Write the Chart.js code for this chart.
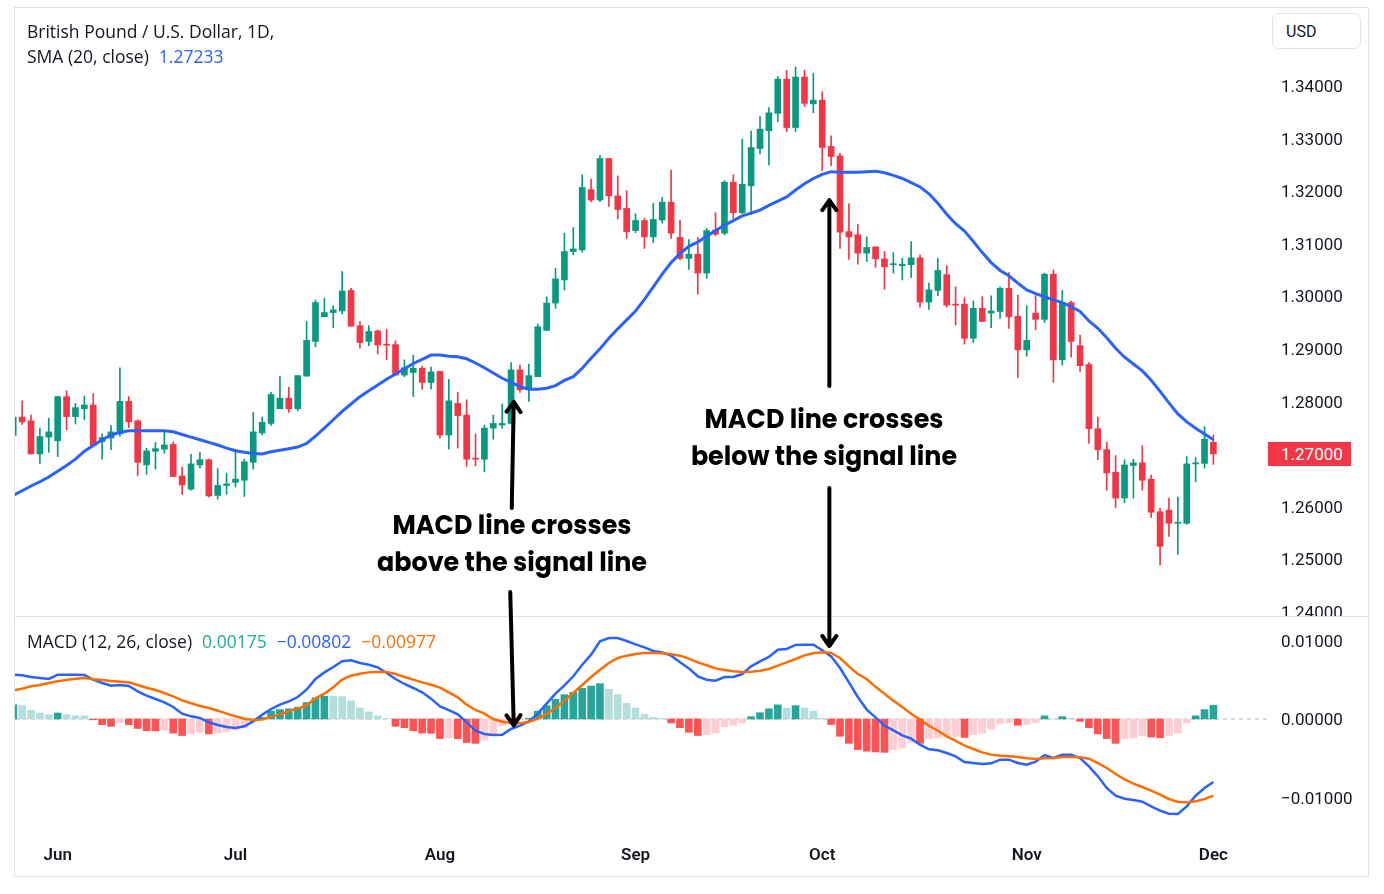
<!DOCTYPE html>
<html>
<head>
<meta charset="utf-8">
<script src="https://cdn.jsdelivr.net/npm/chart.js@4.4.1/dist/chart.umd.min.js"></script>
<style>
  html, body { margin: 0; padding: 0; background: #ffffff; }
  #root { position: relative; width: 1384px; height: 894px; overflow: hidden; background: #ffffff;
          font-family: Roboto, "Liberation Sans", sans-serif; color: #131722; }
  #frame { position: absolute; left: 14px; top: 7px; width: 1355px; height: 870px;
           border: 1px solid #e0e3eb; box-sizing: border-box; }
  .pane { position: absolute; left: 15px; }
  #sep { position: absolute; left: 15px; top: 616px; width: 1353px; height: 1px; background: #e0e3eb; }
  .legend { position: absolute; left: 27px; font-family: "Open Sans", Roboto, sans-serif; font-size: 17.5px;
            line-height: 22px; white-space: nowrap; color: #131722; }
  .legend span.v { margin-left: 10px; }
  #usd { position: absolute; left: 1272px; top: 13px; width: 89px; height: 36px; box-sizing: border-box;
         border: 1px solid #e0e3eb; border-radius: 7px; font-size: 16px; line-height: 36px; padding-left: 13px; background:#fff; }
  #lastPrice { position: absolute; left: 1268px; width: 83px; height: 24px; background: #F23645; color: #fff;
               font-size: 17px; line-height: 25px; padding-left: 13px; box-sizing: border-box; }
  .note { position: absolute; font-family: Poppins, "Open Sans", sans-serif; font-weight: 700; font-size: 25.4px;
          line-height: 37px; text-align: center; color: #000; white-space: nowrap; }
  #arrows { position: absolute; left: 0; top: 0; }
</style>
</head>
<body>
<div id="root">
  <div id="frame"></div>
  <div class="pane" style="top:8px;width:1353px;height:608px;"><canvas id="priceChart" width="1353" height="608"></canvas></div>
  <div id="sep"></div>
  <div class="pane" style="top:617px;width:1353px;height:259px;"><canvas id="macdChart" width="1353" height="259"></canvas></div>

  <div class="legend" style="top:20px;">British Pound / U.S. Dollar, 1D,</div>
  <div class="legend" style="top:45px;">SMA (20, close)<span class="v" style="color:#2962FF;">1.27233</span></div>
  <div class="legend" style="top:630px;">MACD (12, 26, close)<span class="v" style="color:#22AB94;">0.00175</span><span class="v" style="color:#2962FF;">−0.00802</span><span class="v" style="color:#FF6D00;">−0.00977</span></div>
  <div id="usd">USD</div>
  <div id="lastPrice">1.27000</div>

  <div class="note" style="left:362px;top:507px;width:300px;">MACD line crosses<br>above the signal line</div>
  <div class="note" style="left:674px;top:401px;width:300px;">MACD line crosses<br>below the signal line</div>
  <svg id="arrows" width="1384" height="894"></svg>
</div>

<script>
// ---------------- DATA ----------------
// Trading days from 27 May 2024 (index 0) to 2 Dec 2024 (index 135)
const monthLabels   = ['Jun', 'Jul', 'Aug', 'Sep', 'Oct', 'Nov', 'Dec'];
const monthStartIdx = [5, 25, 48, 70, 91, 114, 135];

const priceTicks = [1.24, 1.25, 1.26, 1.27, 1.28, 1.29, 1.30, 1.31, 1.32, 1.33, 1.34];
const macdTicks  = [-0.01, 0, 0.01];

const opens = [
  1.2735,1.2770,1.2763,1.2700,1.2732,1.2725,1.2809,1.2771,1.2786,1.2793,
  1.2723,1.2730,1.2738,1.2800,1.2763,1.2679,1.2705,1.2709,1.2718,1.2658,
  1.2633,1.2679,1.2689,1.2621,1.2640,1.2646,1.2650,1.2684,1.2740,1.2758,
  1.2786,1.2806,1.2786,1.2848,1.2914,1.2961,1.2969,1.2972,1.3011,1.2944,
  1.2914,1.2934,1.2908,1.2908,1.2850,1.2855,1.2863,1.2836,1.2857,1.2736,
  1.2796,1.2774,1.2692,1.2690,1.2749,1.2755,1.2758,1.2860,1.2822,1.2847,
  1.2935,1.2987,1.3031,1.3085,1.3088,1.3203,1.3183,1.3262,1.3191,1.3167,
  1.3125,1.3144,1.3113,1.3145,1.3179,1.3112,1.3072,1.3080,1.3044,1.3126,
  1.3120,1.3217,1.3159,1.3210,1.3281,1.3315,1.3348,1.3413,1.3321,1.3417,
  1.3366,1.3373,1.3285,1.3267,1.3123,1.3117,1.3082,1.3094,1.3071,1.3060,
  1.3058,1.3060,1.3073,1.2989,1.3011,1.3041,1.2985,1.2985,1.2920,1.2977,
  1.2968,1.2971,1.3015,1.2962,1.2898,1.2968,1.2956,1.3042,1.2879,1.2988,
  1.2906,1.2870,1.2748,1.2708,1.2665,1.2616,1.2678,1.2683,1.2652,1.2590,
  1.2593,1.2568,1.2568,1.2681,1.2682,1.2722
];
const highs = [
  1.2780,1.2801,1.2774,1.2749,1.2768,1.2810,1.2820,1.2796,1.2810,1.2815,
  1.2738,1.2754,1.2864,1.2809,1.2765,1.2711,1.2722,1.2742,1.2723,1.2675,
  1.2699,1.2703,1.2690,1.2672,1.2663,1.2709,1.2690,1.2779,1.2770,1.2817,
  1.2847,1.2827,1.2849,1.2952,1.2993,1.2996,1.2982,1.3047,1.3015,1.2952,
  1.2944,1.2936,1.2937,1.2915,1.2879,1.2888,1.2867,1.2865,1.2857,1.2842,
  1.2817,1.2803,1.2738,1.2755,1.2774,1.2795,1.2874,1.2869,1.2871,1.2947,
  1.2999,1.3053,1.3120,1.3131,1.3231,1.3223,1.3268,1.3262,1.3229,1.3201,
  1.3157,1.3148,1.3177,1.3188,1.3240,1.3145,1.3108,1.3112,1.3129,1.3159,
  1.3220,1.3231,1.3299,1.3314,1.3342,1.3359,1.3418,1.3430,1.3436,1.3430,
  1.3424,1.3389,1.3305,1.3272,1.3176,1.3137,1.3113,1.3094,1.3085,1.3083,
  1.3072,1.3104,1.3079,1.3025,1.3072,1.3058,1.3018,1.2997,1.2991,1.2999,
  1.3001,1.3018,1.3045,1.3002,1.2982,1.3001,1.3044,1.3050,1.3011,1.2991,
  1.2926,1.2874,1.2770,1.2722,1.2697,1.2689,1.2690,1.2716,1.2660,1.2597,
  1.2616,1.2618,1.2695,1.2693,1.2752,1.2736
];
const lows = [
  1.2725,1.2756,1.2700,1.2682,1.2703,1.2695,1.2746,1.2757,1.2765,1.2716,
  1.2690,1.2708,1.2734,1.2750,1.2659,1.2661,1.2671,1.2701,1.2657,1.2623,
  1.2631,1.2673,1.2618,1.2614,1.2623,1.2637,1.2619,1.2671,1.2736,1.2754,
  1.2786,1.2779,1.2782,1.2848,1.2904,1.2961,1.2940,1.2966,1.2943,1.2901,
  1.2906,1.2890,1.2879,1.2850,1.2847,1.2809,1.2823,1.2823,1.2730,1.2709,
  1.2711,1.2676,1.2677,1.2666,1.2728,1.2749,1.2758,1.2817,1.2800,1.2847,
  1.2935,1.2977,1.3012,1.3079,1.3084,1.3180,1.3180,1.3171,1.3147,1.3110,
  1.3121,1.3091,1.3102,1.3139,1.3110,1.3069,1.3051,1.3004,1.3034,1.3115,
  1.3117,1.3148,1.3157,1.3155,1.3271,1.3250,1.3332,1.3313,1.3313,1.3361,
  1.3349,1.3239,1.3248,1.3091,1.3070,1.3061,1.3066,1.3055,1.3013,1.3044,
  1.3031,1.3036,1.2979,1.2975,1.3001,1.2979,1.2945,1.2909,1.2912,1.2952,
  1.2940,1.2958,1.2939,1.2845,1.2886,1.2936,1.2950,1.2836,1.2869,1.2884,
  1.2857,1.2720,1.2689,1.2631,1.2598,1.2607,1.2616,1.2631,1.2579,1.2489,
  1.2543,1.2509,1.2566,1.2647,1.2673,1.2680
];
const closes = [
  1.2770,1.2761,1.2700,1.2733,1.2742,1.2809,1.2771,1.2788,1.2793,1.2716,
  1.2731,1.2742,1.2800,1.2761,1.2684,1.2706,1.2710,1.2717,1.2657,1.2641,
  1.2681,1.2689,1.2620,1.2640,1.2643,1.2652,1.2685,1.2742,1.2760,1.2813,
  1.2806,1.2786,1.2849,1.2916,1.2988,1.2969,1.2974,1.3010,1.2943,1.2912,
  1.2933,1.2907,1.2907,1.2850,1.2864,1.2863,1.2836,1.2856,1.2736,1.2801,
  1.2773,1.2690,1.2690,1.2749,1.2758,1.2758,1.2860,1.2822,1.2849,1.2942,
  1.2987,1.3033,1.3085,1.3090,1.3207,1.3183,1.3262,1.3191,1.3165,1.3123,
  1.3144,1.3113,1.3146,1.3179,1.3120,1.3072,1.3080,1.3044,1.3125,1.3118,
  1.3217,1.3159,1.3213,1.3283,1.3318,1.3349,1.3413,1.3321,1.3417,1.3367,
  1.3373,1.3283,1.3266,1.3122,1.3113,1.3082,1.3093,1.3071,1.3056,1.3061,
  1.3061,1.3073,1.2989,1.3012,1.3049,1.2983,1.2983,1.2920,1.2977,1.2952,
  1.2972,1.3015,1.2961,1.2898,1.2916,1.2956,1.3042,1.2879,1.2988,1.2914,
  1.2868,1.2748,1.2708,1.2664,1.2616,1.2679,1.2683,1.2650,1.2589,1.2524,
  1.2568,1.2570,1.2681,1.2683,1.2728,1.2700
];
const sma20 = [
  1.2621,1.2630,1.2639,1.2647,1.2656,1.2667,1.2678,1.2690,1.2705,1.2716,
  1.2727,1.2736,1.2741,1.2744,1.2744,1.2744,1.2744,1.2744,1.2742,1.2737,
  1.2732,1.2727,1.2722,1.2717,1.2711,1.2706,1.2703,1.2701,1.2700,1.2704,
  1.2707,1.2710,1.2713,1.2720,1.2734,1.2749,1.2765,1.2781,1.2795,1.2809,
  1.2820,1.2831,1.2842,1.2852,1.2862,1.2872,1.2880,1.2888,1.2888,1.2886,
  1.2885,1.2881,1.2873,1.2864,1.2854,1.2844,1.2836,1.2828,1.2823,1.2823,
  1.2825,1.2830,1.2840,1.2847,1.2863,1.2882,1.2900,1.2920,1.2938,1.2955,
  1.2972,1.2994,1.3018,1.3042,1.3064,1.3081,1.3095,1.3103,1.3114,1.3125,
  1.3135,1.3144,1.3153,1.3158,1.3164,1.3173,1.3181,1.3189,1.3202,1.3214,
  1.3224,1.3232,1.3237,1.3236,1.3236,1.3236,1.3237,1.3238,1.3235,1.3230,
  1.3224,1.3216,1.3208,1.3195,1.3177,1.3156,1.3138,1.3124,1.3104,1.3083,
  1.3064,1.3049,1.3039,1.3025,1.3012,1.3005,1.2999,1.2993,1.2988,1.2980,
  1.2971,1.2953,1.2939,1.2921,1.2901,1.2884,1.2871,1.2858,1.2840,1.2819,
  1.2797,1.2776,1.2761,1.2749,1.2738,1.2727
];
const histogram = [
  0.0018,0.0017,0.0011,0.00076,0.00055,0.00076,0.00055,0.00042,0.0004,-0.0001,
  -0.00072,-0.00093,-0.0005,-0.00072,-0.0012,-0.0015,-0.00152,-0.00145,-0.0018,-0.0021,
  -0.0019,-0.0017,-0.0019,-0.0018,-0.0016,-0.0014,-0.0011,-0.0003,0.0002,0.0010,
  0.0012,0.0013,0.0015,0.0021,0.0027,0.0029,0.00288,0.00285,0.0023,0.0014,
  0.0009,0.0004,0.00005,-0.00093,-0.0011,-0.0015,-0.0018,-0.00182,-0.0025,-0.0024,
  -0.0025,-0.0030,-0.0031,-0.0027,-0.0020,-0.00085,-0.0003,-0.0001,0.0001,0.0010,
  0.0017,0.0025,0.0031,0.0034,0.0039,0.0042,0.0045,0.0038,0.0031,0.0020,
  0.0014,0.0006,0.0002,0.0001,-0.0005,-0.0011,-0.0017,-0.0021,-0.0020,-0.0018,
  -0.0010,-0.0008,-0.0005,0.0003,0.0008,0.0013,0.0018,0.0014,0.0017,0.0014,
  0.0010,0.0001,-0.0007,-0.0022,-0.0031,-0.0039,-0.0041,-0.0042,-0.00425,-0.0039,
  -0.0037,-0.0030,-0.0031,-0.0025,-0.0024,-0.0023,-0.0022,-0.00235,-0.0020,-0.0018,
  -0.0013,-0.0006,-0.0005,-0.0008,-0.0007,-0.0005,0.0004,0.00002,0.0003,0.0001,
  -0.0003,-0.0011,-0.0019,-0.0025,-0.0031,-0.0025,-0.0024,-0.0021,-0.0023,-0.0024,
  -0.0021,-0.0018,-0.0005,0.0004,0.0012,0.00175
];
const macdLine = [
  0.00565,0.00556,0.00535,0.00522,0.00510,0.00565,0.00565,0.00565,0.00561,0.00501,
  0.00459,0.00425,0.00433,0.00420,0.00352,0.00297,0.00255,0.00212,0.00153,0.00068,
  0.00034,0.00013,-0.00042,-0.00076,-0.00102,-0.00115,-0.00093,-0.00030,0.00055,0.00127,
  0.00183,0.00225,0.00280,0.00374,0.00510,0.00594,0.00662,0.00735,0.00747,0.00713,
  0.00692,0.00658,0.00586,0.00510,0.00446,0.00395,0.00340,0.00259,0.00160,0.00112,
  0.00059,-0.00042,-0.00149,-0.00191,-0.00204,-0.00200,-0.00127,-0.00085,-0.00030,0.00068,
  0.00195,0.00323,0.00429,0.00544,0.00692,0.00820,0.00989,0.01032,0.01032,0.00994,
  0.00951,0.00913,0.00866,0.00849,0.00807,0.00722,0.00645,0.00544,0.00501,0.00488,
  0.00535,0.00535,0.00573,0.00671,0.00735,0.00790,0.00883,0.00892,0.00943,0.00947,
  0.00947,0.00875,0.00798,0.00650,0.00467,0.00280,0.00120,0.00020,-0.00085,-0.00144,
  -0.00208,-0.00251,-0.00327,-0.00386,-0.00399,-0.00433,-0.00476,-0.00548,-0.00561,-0.00573,
  -0.00565,-0.00518,-0.00518,-0.00561,-0.00582,-0.00544,-0.00459,-0.00497,-0.00454,-0.00454,
  -0.00497,-0.00603,-0.00730,-0.00879,-0.00977,-0.01015,-0.01032,-0.01053,-0.01113,-0.01168,
  -0.01206,-0.01210,-0.01113,-0.00977,-0.00879,-0.00802
];
const signalLine = [
  0.00365,0.00386,0.00416,0.00433,0.00459,0.00480,0.00497,0.00514,0.00522,0.00505,
  0.00497,0.00484,0.00476,0.00467,0.00433,0.00399,0.00369,0.00331,0.00289,0.00238,
  0.00200,0.00166,0.00140,0.00106,0.00068,0.00034,0.00004,-0.00013,-0.00008,0.00030,
  0.00059,0.00098,0.00132,0.00174,0.00263,0.00323,0.00403,0.00501,0.00552,0.00577,
  0.00594,0.00599,0.00599,0.00573,0.00535,0.00501,0.00467,0.00437,0.00400,0.00340,
  0.00276,0.00183,0.00115,0.00068,0.00000,-0.00034,-0.00051,-0.00055,-0.00038,0.00004,
  0.00064,0.00140,0.00234,0.00331,0.00433,0.00535,0.00628,0.00713,0.00777,0.00807,
  0.00828,0.00841,0.00841,0.00837,0.00824,0.00807,0.00769,0.00722,0.00684,0.00645,
  0.00624,0.00607,0.00599,0.00603,0.00616,0.00637,0.00679,0.00722,0.00764,0.00811,
  0.00837,0.00849,0.00841,0.00777,0.00671,0.00573,0.00510,0.00410,0.00323,0.00234,
  0.00153,0.00068,-0.00008,-0.00085,-0.00149,-0.00221,-0.00280,-0.00335,-0.00382,-0.00425,
  -0.00454,-0.00467,-0.00476,-0.00484,-0.00501,-0.00510,-0.00501,-0.00497,-0.00484,-0.00484,
  -0.00488,-0.00505,-0.00561,-0.00624,-0.00701,-0.00769,-0.00824,-0.00866,-0.00913,-0.00964,
  -0.01019,-0.01057,-0.01062,-0.01049,-0.01019,-0.00977
];

// annotation anchors (crossover bars and where the arrows point)
const crossUpIdx = 56.3, crossDownIdx = 91.8;
const upArrowPriceTip = 1.2799, downArrowPriceTip = 1.3183;
const upArrowMacdTip = -0.0008, downArrowMacdTip = 0.0093;

// ---------------- STYLE ----------------
const GREEN = '#089981', RED = '#F23645';
const FONT = 'Roboto, "Liberation Sans", sans-serif';
const X_MIN = 0.2, X_MAX = 141.14;
const N = closes.length;
const idx = Array.from({length: N}, (_, i) => i);
const candleColors = idx.map(i => closes[i] >= opens[i] ? GREEN : RED);
const histColors = histogram.map((v, i) => {
  const prev = i > 0 ? histogram[i - 1] : v;
  if (v >= 0) return v >= prev ? '#26A69A' : '#B2DFDB';
  return v < prev ? '#FF5252' : '#FFCDD2';
});

const noPad = s => { s.paddingTop = 0; s.paddingBottom = 0; s.paddingLeft = 0; s.paddingRight = 0; };

const priceChart = new Chart(document.getElementById('priceChart'), {
  type: 'bar',
  data: {
    datasets: [
      { type: 'line', label: 'SMA (20, close)', data: idx.map(i => ({x: i, y: sma20[i]})),
        borderColor: '#2962FF', borderWidth: 3, pointRadius: 0, tension: 0, order: 0, clip: 0 },
      { label: 'Body', data: idx.map(i => ({x: i, y: [opens[i], closes[i]]})),
        backgroundColor: candleColors, barThickness: 6, minBarLength: 1, grouped: false, order: 1, clip: 0 },
      { label: 'Wick', data: idx.map(i => ({x: i, y: [lows[i], highs[i]]})),
        backgroundColor: candleColors, barThickness: 1, grouped: false, order: 2, clip: 0 }
    ]
  },
  options: {
    responsive: false, animation: false, events: [],
    layout: { padding: 0 },
    plugins: { legend: { display: false }, tooltip: { enabled: false } },
    scales: {
      x: { type: 'linear', min: X_MIN, max: X_MAX, display: false, offset: false },
      y: { position: 'right', min: 1.239163, max: 1.354840, beginAtZero: false,
           grid: { display: false, drawTicks: false }, border: { display: false },
           ticks: { color: '#131722', font: { family: FONT, size: 17 }, padding: 13, labelOffset: 2,
                    callback: v => v.toFixed(5) },
           afterBuildTicks: s => { s.ticks = priceTicks.map(v => ({value: v})); },
           afterFit: s => { s.width = 100; noPad(s); } }
    }
  }
});

const macdChart = new Chart(document.getElementById('macdChart'), {
  type: 'bar',
  data: {
    datasets: [
      { type: 'line', label: 'Signal', data: idx.map(i => ({x: i, y: signalLine[i]})),
        borderColor: '#FF6D00', borderWidth: 2.5, pointRadius: 0, tension: 0, order: 0, clip: 0 },
      { type: 'line', label: 'MACD', data: idx.map(i => ({x: i, y: macdLine[i]})),
        borderColor: '#2962FF', borderWidth: 2.5, pointRadius: 0, tension: 0, order: 1, clip: 0 },
      { label: 'Histogram', data: idx.map(i => ({x: i, y: histogram[i]})),
        backgroundColor: histColors, barThickness: 7, grouped: false, order: 2, clip: 0 },
      { type: 'line', label: 'Zero', data: [{x: X_MIN, y: 0}, {x: X_MAX, y: 0}],
        borderColor: 'rgba(120,123,134,0.55)', borderWidth: 1, borderDash: [4, 4], pointRadius: 0, order: 3, clip: 0 }
    ]
  },
  options: {
    responsive: false, animation: false, events: [],
    layout: { padding: 0 },
    plugins: { legend: { display: false }, tooltip: { enabled: false } },
    scales: {
      x: { type: 'linear', min: X_MIN, max: X_MAX, offset: false,
           grid: { display: false, drawTicks: false }, border: { display: false },
           ticks: { autoSkip: false, maxRotation: 0, color: '#131722',
                    font: { family: FONT, size: 17, weight: '600' }, padding: 11,
                    callback: (v, i) => monthLabels[i] },
           afterBuildTicks: s => { s.ticks = monthStartIdx.map(v => ({value: v})); },
           afterFit: s => { s.height = 41; noPad(s); } },
      y: { position: 'right', min: -0.014777, max: 0.012994, beginAtZero: false,
           grid: { display: false, drawTicks: false }, border: { display: false },
           ticks: { color: '#131722', font: { family: FONT, size: 17 }, padding: 13, labelOffset: 2,
                    callback: v => (v < 0 ? '\u2212' : '') + Math.abs(v).toFixed(5) },
           afterBuildTicks: s => { s.ticks = macdTicks.map(v => ({value: v})); },
           afterFit: s => { s.width = 100; noPad(s); } }
    }
  }
});

// last price label placed from the price scale
const lastY = 8 + priceChart.scales.y.getPixelForValue(closes[N - 1]);
document.getElementById('lastPrice').style.top = (lastY - 12) + 'px';

// annotation arrows anchored to the scales
const pxX = i => 15 + priceChart.scales.x.getPixelForValue(i);
const pyP = v => 8 + priceChart.scales.y.getPixelForValue(v);
const pyM = v => 617 + macdChart.scales.y.getPixelForValue(v);
const svg = document.getElementById('arrows');
function arrow(x1, y1, x2, y2) {
  const dx = x2 - x1, dy = y2 - y1, len = Math.hypot(dx, dy);
  const ux = dx / len, uy = dy / len, px = -uy, py = ux;
  const hb = 10, hw = 7;
  const a1 = [x2 - ux * hb + px * hw, y2 - uy * hb + py * hw];
  const a2 = [x2 - ux * hb - px * hw, y2 - uy * hb - py * hw];
  const p = document.createElementNS('http://www.w3.org/2000/svg', 'path');
  p.setAttribute('d', `M${x1},${y1} L${x2},${y2} M${a1[0]},${a1[1]} L${x2},${y2} L${a2[0]},${a2[1]}`);
  p.setAttribute('stroke', '#000'); p.setAttribute('stroke-width', '4');
  p.setAttribute('fill', 'none'); p.setAttribute('stroke-linecap', 'round'); p.setAttribute('stroke-linejoin', 'round');
  svg.appendChild(p);
}
const xu = pxX(crossUpIdx), xd = pxX(crossDownIdx);
arrow(xu - 2, 508, xu, pyP(upArrowPriceTip));
arrow(xu - 3.5, 592, xu, pyM(upArrowMacdTip));
arrow(xd, 386, xd, pyP(downArrowPriceTip));
arrow(xd, 488, xd, pyM(downArrowMacdTip));
</script>
</body>
</html>
